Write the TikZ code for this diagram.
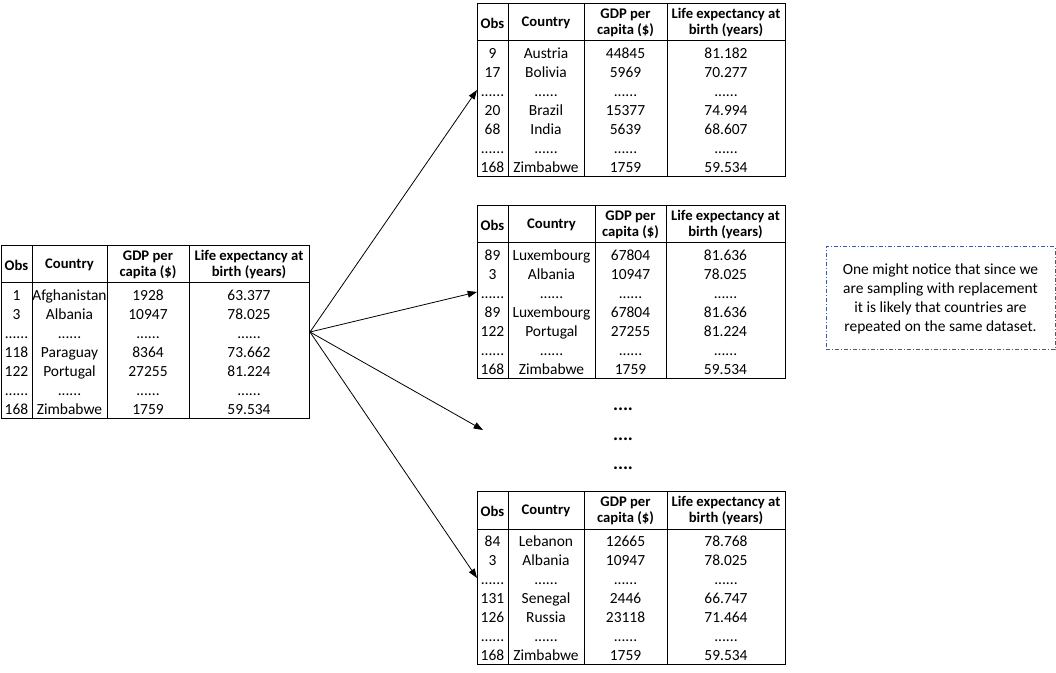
\documentclass[tikz,border=0pt]{standalone}
\usepackage{fontspec}
\setmainfont{Carlito}
\usetikzlibrary{arrows.meta}
\definecolor{notecol}{RGB}{70,90,140}
\newcommand\sixdots{......}
\tikzset{
  tabframe/.style={draw=black, line width=0.75pt, inner sep=0pt, minimum width=231pt, minimum height=129.75pt},
  gridline/.style={draw=black, line width=0.75pt},
  headtxt/.style={inner sep=0pt, align=center, font=\fontsize{11}{12}\selectfont\bfseries},
  celltxt/.style={inner sep=0pt, anchor=base, font=\fontsize{11.6}{13}\selectfont},
  dotstxt/.style={inner sep=0pt, anchor=base, font=\fontsize{14}{16}\selectfont\bfseries},
  conn/.style={draw=black, line width=0.6pt, -{Triangle[length=7pt,width=5pt]}},
  notebox/.style={draw=notecol, line width=0.75pt, dash pattern=on 3pt off 1.5pt on 0.75pt off 1.5pt,
     minimum width=171.75pt, minimum height=77.25pt, align=center, inner sep=0pt,
     font=\fontsize{11.6}{14.25}\selectfont}
}
% #1 name, #2 x, #3 y, #4 Country/GDP line, #5 GDP/Life line, #6 rows
\newcommand\datatab[6]{%
\begin{scope}[shift={(#2,#3)}]
  \pgfmathsetmacro\cB{(31+#4)/2}
  \pgfmathsetmacro\cC{(#4+#5)/2}
  \pgfmathsetmacro\cD{(#5+308)/2}
  \node[tabframe, anchor=north west] (#1) at (0,0) {};
  \draw[gridline] (0,38) -- (308,38);
  \foreach \cx in {31,#4,#5} \draw[gridline] (\cx,0) -- (\cx,173);
  \node[headtxt] (#1-h1) at (15.5,20) {Obs};
  \node[headtxt] (#1-h2) at (\cB,20) {Country};
  \node[headtxt] (#1-h3) at (\cC,20) {GDP per\\capita (\$)};
  \node[headtxt] (#1-h4) at (\cD,20) {Life expectancy at\\birth (years)};
  \foreach \a/\b/\c/\d [count=\i from 0] in {#6} {
    \node[celltxt] (#1-\i-a) at (15.5,{55.5+19*\i}) {\a};
    \node[celltxt] (#1-\i-b) at (\cB,{55.5+19*\i}) {\b};
    \node[celltxt] (#1-\i-c) at (\cC,{55.5+19*\i}) {\c};
    \node[celltxt] (#1-\i-d) at (\cD,{55.5+19*\i}) {\d};
  }
\end{scope}}
\begin{document}
\begin{tikzpicture}[x=0.75pt,y=-0.75pt]
\useasboundingbox (0,0) rectangle (1056,673);
\datatab{orig}{1}{245}{106}{188}{1/Afghanistan/1928/63.377, 3/Albania/10947/78.025, \sixdots/\sixdots/\sixdots/\sixdots, 118/Paraguay/8364/73.662, 122/Portugal/27255/81.224, \sixdots/\sixdots/\sixdots/\sixdots, 168/Zimbabwe/1759/59.534}
\datatab{sa}{477}{3}{107}{190}{9/Austria/44845/81.182, 17/Bolivia/5969/70.277, \sixdots/\sixdots/\sixdots/\sixdots, 20/Brazil/15377/74.994, 68/India/5639/68.607, \sixdots/\sixdots/\sixdots/\sixdots, 168/Zimbabwe/1759/59.534}
\datatab{sb}{477}{205}{118}{189}{89/Luxembourg/67804/81.636, 3/Albania/10947/78.025, \sixdots/\sixdots/\sixdots/\sixdots, 89/Luxembourg/67804/81.636, 122/Portugal/27255/81.224, \sixdots/\sixdots/\sixdots/\sixdots, 168/Zimbabwe/1759/59.534}
\datatab{sc}{477}{491}{107}{190}{84/Lebanon/12665/78.768, 3/Albania/10947/78.025, \sixdots/\sixdots/\sixdots/\sixdots, 131/Senegal/2446/66.747, 126/Russia/23118/71.464, \sixdots/\sixdots/\sixdots/\sixdots, 168/Zimbabwe/1759/59.534}
\node[dotstxt] (dots1) at (623,410) {....};
\node[dotstxt] (dots2) at (623,440) {....};
\node[dotstxt] (dots3) at (623,469) {....};
\coordinate (free) at (483,430);
\draw[conn] (orig.east) -- (sa.west);
\draw[conn] (orig.east) -- (sb.west);
\draw[conn] (orig.east) -- (free);
\draw[conn] (orig.east) -- (sc.west);
\node[notebox] (note) at (940.5,298.5) {One might notice that since we\\are sampling with replacement\\it is likely that countries are\\repeated on the same dataset.};
\end{tikzpicture}
\end{document}
